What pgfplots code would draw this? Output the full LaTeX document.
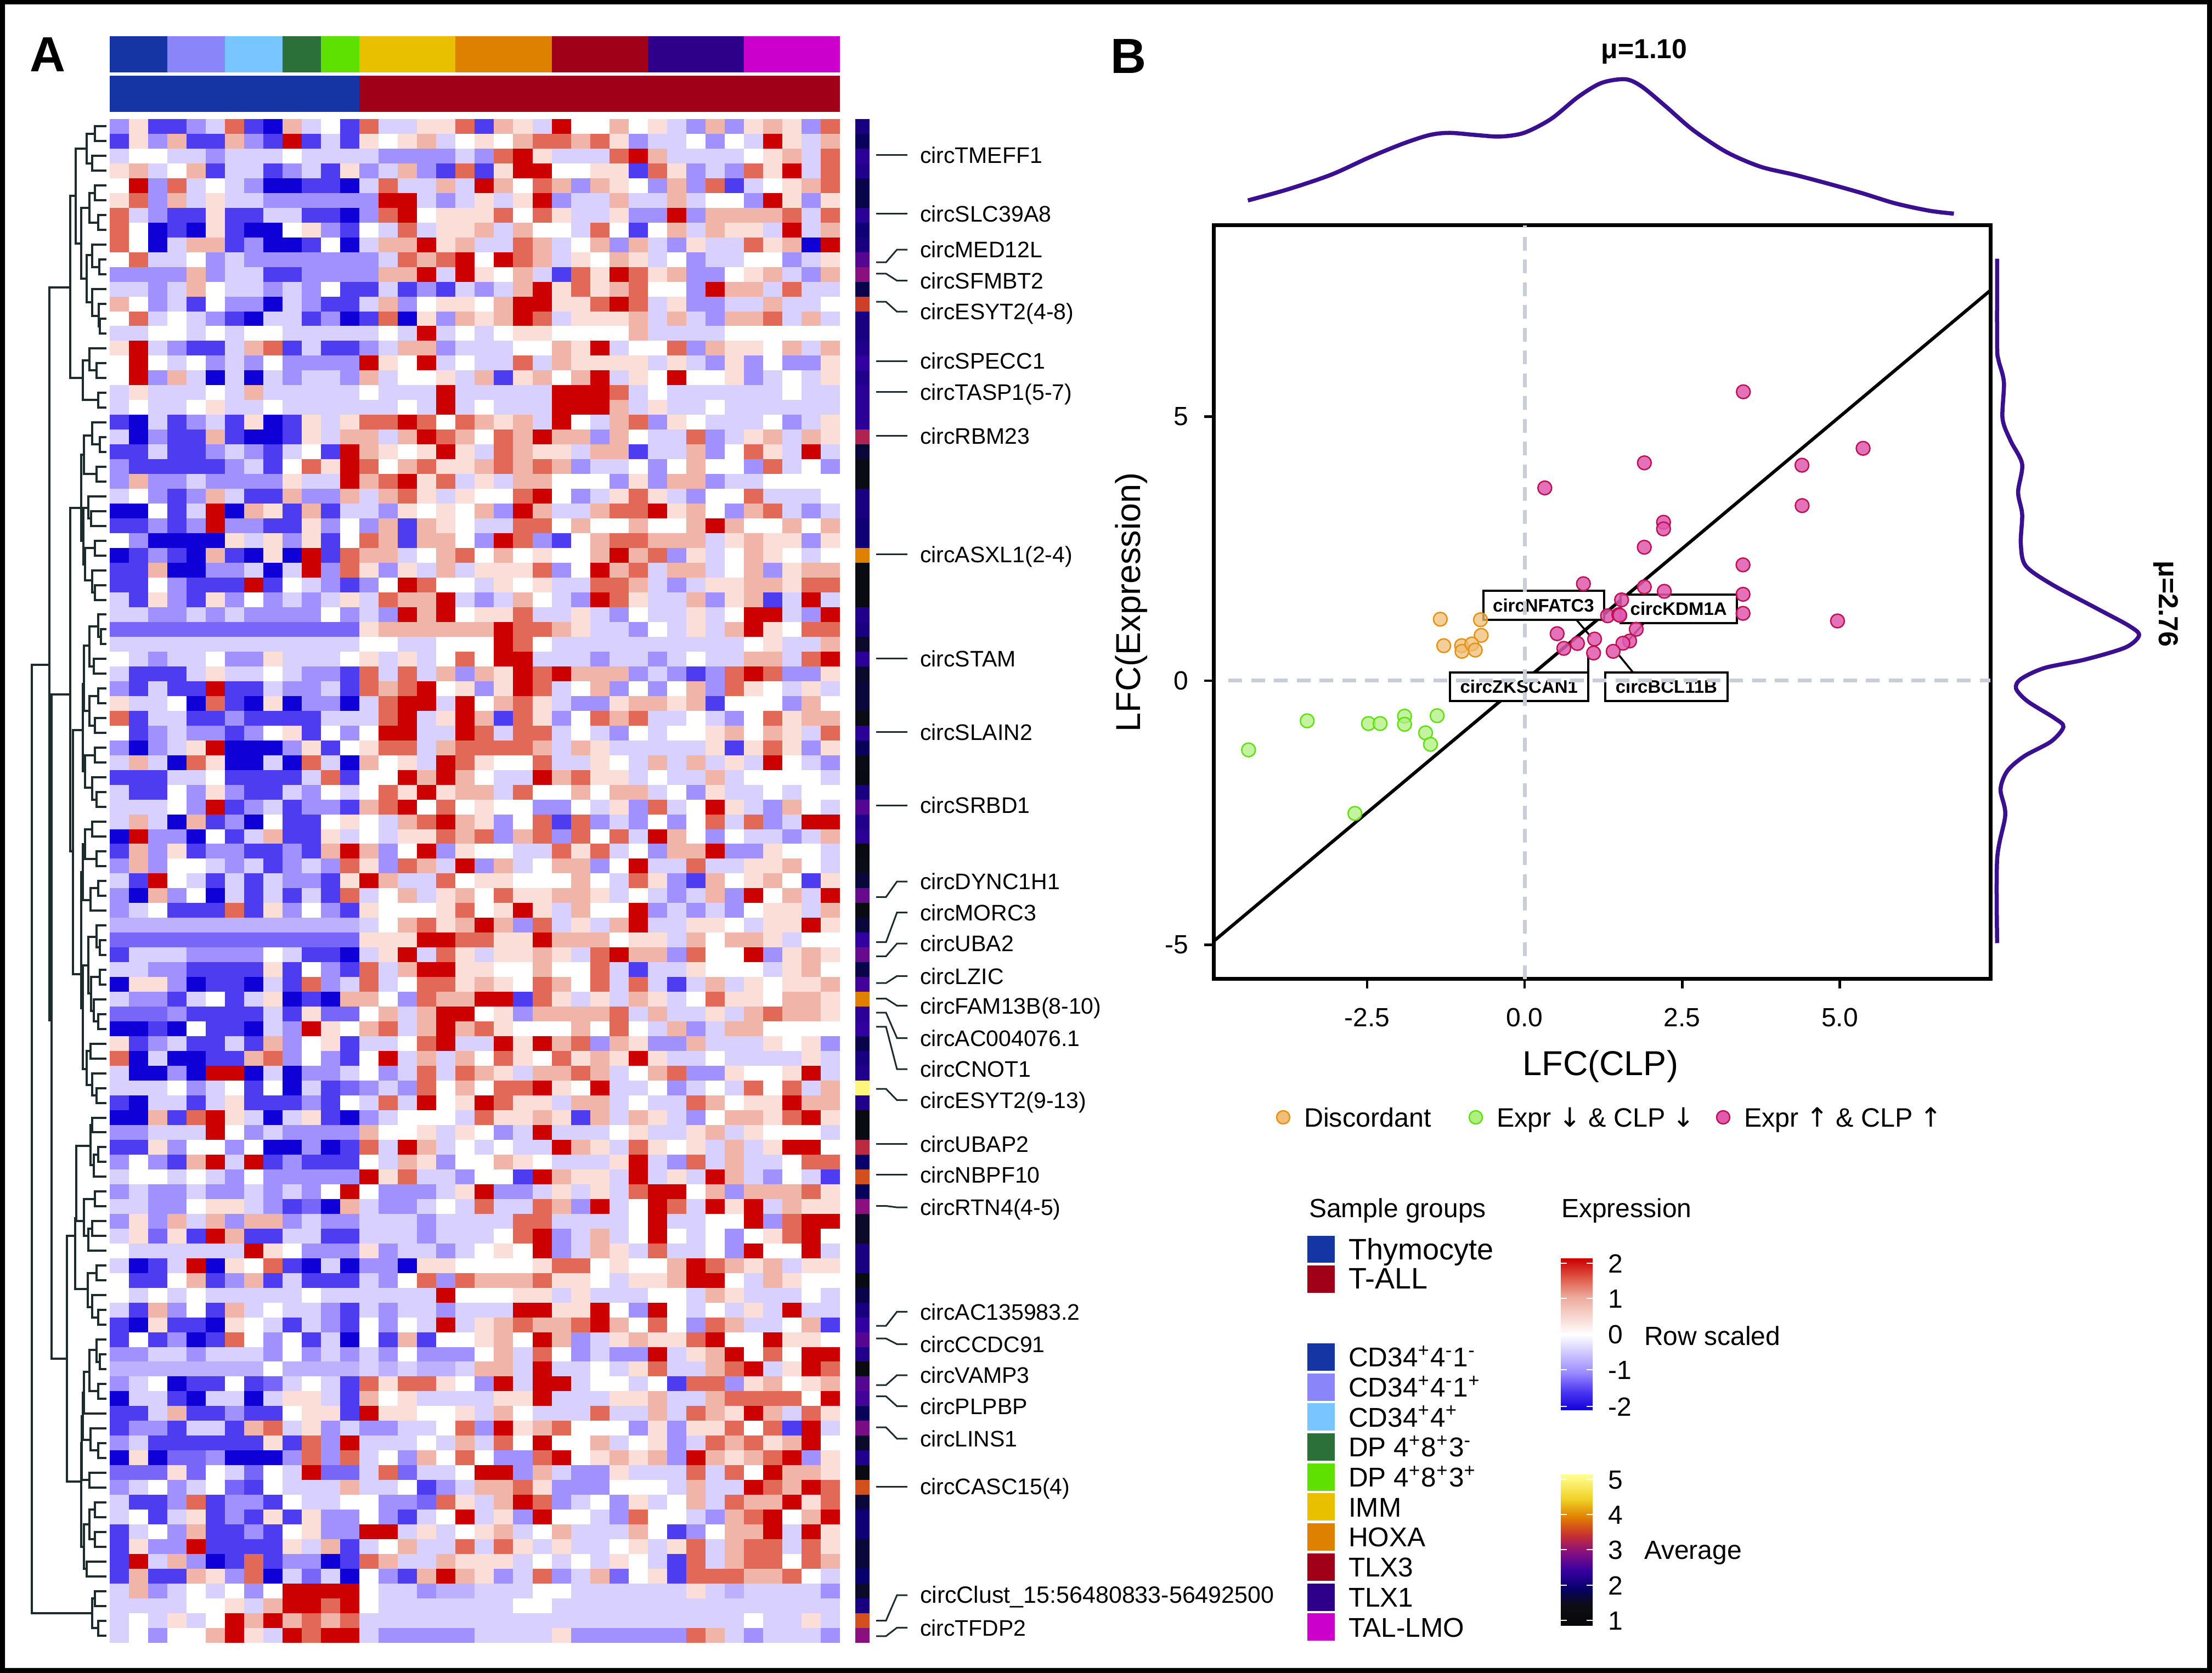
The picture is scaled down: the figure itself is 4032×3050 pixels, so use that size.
\documentclass[border=0pt]{standalone}
\usepackage{fontspec}
\setmainfont{Liberation Sans}
\newfontfamily\arrowf{DejaVu Sans}
\usepackage{pgfplots}
\usepackage{pgfplotstable}
\pgfplotsset{compat=1.18}

\definecolor{cA}{RGB}{21,53,165}
\definecolor{cB}{RGB}{138,133,248}
\definecolor{cC}{RGB}{120,197,255}
\definecolor{cD}{RGB}{42,112,56}
\definecolor{cE}{RGB}{94,224,0}
\definecolor{cF}{RGB}{232,192,0}
\definecolor{cG}{RGB}{222,128,0}
\definecolor{cH}{RGB}{160,0,24}
\definecolor{cI}{RGB}{46,0,138}
\definecolor{cJ}{RGB}{204,0,204}
\definecolor{densc}{RGB}{58,16,144}
\definecolor{dashgrey}{RGB}{200,206,216}
\definecolor{dtree}{RGB}{28,44,44}

\pgfplotsset{
  colormap={heat}{rgb255=(16,0,216) rgb255=(78,60,240) rgb255=(160,145,255) rgb255=(216,208,255)
    rgb255=(255,255,255) rgb255=(250,222,215) rgb255=(240,180,168) rgb255=(226,104,88) rgb255=(204,0,0)},
  colormap={avg}{rgb255=(8,8,8) rgb255=(12,12,25) rgb255=(8,0,108) rgb255=(50,0,160) rgb255=(138,16,128)
    rgb255=(200,48,48) rgb255=(224,128,0) rgb255=(240,210,40) rgb255=(255,255,144)},
  bare/.style={scale only axis,hide axis,clip=false,anchor=south west},
}

\pgfdeclareplotmark{hcell}{\pgfpathrectangle{\pgfpoint{-3.52pt}{-2.71pt}}{\pgfpoint{7.04pt}{5.42pt}}\pgfusepathqfill}
\pgfdeclareplotmark{scell}{\pgfpathrectangle{\pgfpoint{-2.6pt}{-2.71pt}}{\pgfpoint{5.2pt}{5.42pt}}\pgfusepathqfill}

\pgfdeclareverticalshading{hbar}{100bp}{rgb(0bp)=(0.063,0,0.847);
  rgb(25bp)=(0.063,0,0.847); rgb(31bp)=(0.29,0.21,0.94); rgb(37.5bp)=(0.61,0.55,1); rgb(50bp)=(1,1,1);
  rgb(62.5bp)=(0.93,0.66,0.61); rgb(68bp)=(0.88,0.38,0.31); rgb(75bp)=(0.8,0,0); rgb(100bp)=(0.8,0,0)}
\pgfdeclareverticalshading{abar}{100bp}{rgb(0bp)=(0.03,0.03,0.03);
  rgb(25bp)=(0.03,0.03,0.03); rgb(32bp)=(0.05,0.05,0.08); rgb(37.5bp)=(0.03,0,0.42); rgb(43bp)=(0.2,0,0.63);
  rgb(49.5bp)=(0.54,0.06,0.5); rgb(55bp)=(0.78,0.19,0.19); rgb(61bp)=(0.88,0.5,0); rgb(67bp)=(0.94,0.82,0.16);
  rgb(75bp)=(1,1,0.56); rgb(100bp)=(1,1,0.56)}

% row-scaled expression, one line per row, in half units (-4..4 is -2..2)
\pgfplotstableread[header=false]{
-2 1 -3 -3 -2 -1 3 -3 -4 2 -1 0 -3 3 -1 -1 1 1 3 -3 2 1 -1 4 0 0 2 0 1 -1 -2 2 -2 1 2 1 -2 3
-3 1 -2 2 -3 -3 2 -2 -3 4 -3 -1 -3 1 0 1 2 -1 0 1 0 2 3 3 2 3 1 -2 -1 -1 0 -2 0 -1 4 1 -1 2
-1 0 0 -1 -1 -2 -1 -1 -1 0 -1 -1 -1 -1 -2 -2 -2 -2 -1 -2 3 4 1 -1 -1 -1 3 4 2 -1 -1 -1 -1 0 1 2 -1 3
1 2 -1 0 2 -3 -1 -1 -3 -2 -1 -3 1 -2 -1 2 -2 -3 3 -3 1 4 4 0 0 1 1 -3 3 1 -2 -1 -2 3 1 4 -1 3
0 4 -2 3 -1 0 -1 -2 -4 -4 -3 -3 -4 -1 3 -1 -1 2 -1 4 2 0 3 2 -2 2 1 0 -2 2 -2 3 -3 -1 0 1 2 3
1 3 -2 2 -1 1 -1 -1 -2 -2 -2 -2 -2 -2 4 4 -1 -2 -1 1 -1 1 4 -2 -1 -1 2 -1 -1 2 -1 0 0 -2 4 1 -2 1
3 -1 -2 -3 -3 1 -3 -3 -1 -1 -3 -3 -4 -2 3 4 0 1 1 1 3 0 3 1 -1 -1 1 -2 -2 4 -2 2 2 2 2 3 -1 3
3 0 -4 -3 -4 1 -3 -4 -4 0 1 -2 -3 0 -1 3 -1 1 1 2 -1 2 0 0 -1 3 0 -3 0 2 -1 2 1 1 -1 4 -1 2
3 0 -4 -1 2 2 -3 -2 -4 -4 -3 0 -4 -1 2 2 4 1 2 -1 -1 3 2 -1 0 2 -2 2 -1 -2 1 -1 -1 3 1 2 -4 4
0 3 -1 -1 0 -2 -1 -2 -2 -2 -2 -2 -2 -2 -1 3 2 3 4 0 4 3 2 -1 1 0 2 1 -1 0 -2 -1 -1 0 0 -2 -1 1
-2 -2 -2 -2 2 -2 -1 -1 -3 -3 -2 -2 -2 -2 2 2 4 -1 4 1 0 2 -1 -3 3 1 4 3 1 2 -2 -2 0 1 2 -1 -2 2
-1 -1 -2 -1 2 0 -1 -1 -2 -1 -2 0 -3 -3 -1 -3 -2 -3 -1 -2 -1 2 4 1 3 1 2 3 0 0 -2 4 2 2 -1 3 -1 -1
2 0 -2 -1 -3 0 -2 -2 -4 -1 -2 -3 -3 -1 2 -2 0 1 1 0 2 4 4 1 1 3 4 3 -1 1 -2 -2 -1 -1 2 -1 -1 0
0 3 -1 0 -1 -2 -3 -4 -1 -1 -3 -2 -4 -3 3 -4 1 -2 2 1 2 4 3 -1 1 1 1 2 -1 2 -1 -2 2 2 3 -1 2 -1
-1 -1 0 0 -1 0 -1 0 0 -1 -1 -1 -1 -1 0 -1 4 -1 0 -1 0 1 1 0 0 0 0 2 -1 -1 -1 -1 0 0 0 0 0 0
1 4 -1 -2 -3 -3 -1 2 3 -3 -1 -3 -3 -2 -1 2 2 -2 -1 -1 -1 0 0 2 1 4 -1 0 0 3 -2 2 1 1 0 2 -1 2
0 4 0 -1 0 -2 -1 -2 0 -2 -2 -2 -2 4 1 0 4 -1 0 -1 -1 3 -1 2 1 1 1 1 -1 1 -1 -2 1 -2 0 -2 -2 1
0 4 -2 2 -1 -4 -1 -4 -1 -2 -1 -1 -2 2 -1 0 0 1 -1 2 -3 1 2 0 2 4 -1 1 0 4 0 0 1 -2 -1 0 -1 1
-1 1 -1 -1 -1 0 -1 2 -1 -1 -1 -1 -1 0 -1 -1 -1 4 -1 -1 -1 -1 -1 4 4 4 3 -1 0 -1 -1 -1 -1 -1 -1 0 -1 -1
-1 0 -1 -1 0 1 -1 -1 0 -1 -1 -1 -1 -1 -1 0 -1 4 -1 0 -1 -1 -1 4 4 4 2 -1 1 -1 -1 0 -1 -1 -1 -1 -1 -1
-3 -4 -1 -3 -2 -1 -3 1 -4 -3 1 -1 1 3 3 4 3 0 3 2 1 2 -1 4 0 -1 2 3 -2 1 0 -1 -1 -1 0 -2 -1 1
-1 -4 -2 -3 -3 2 -3 -4 -4 -3 1 -1 2 2 -1 2 4 3 2 0 3 2 4 2 2 -2 2 0 -1 -1 3 -2 -1 1 2 -1 2 1
-3 -3 -1 -3 -3 -2 -1 -2 -3 -1 0 -3 4 2 1 0 1 4 1 -1 3 2 1 1 -1 2 2 -3 -1 -1 2 -2 0 3 1 -1 4 -1
-2 -3 -3 -3 -3 -3 -2 -1 -3 0 3 1 4 3 0 2 3 1 1 2 3 2 3 2 -2 -1 -1 0 -2 0 2 0 0 -2 3 -1 0 -2
-2 2 -2 -2 -1 -2 -2 -2 -2 1 -1 -1 4 2 3 4 1 3 -1 1 -1 2 2 0 0 0 -2 1 -2 2 2 -2 -1 -1 0 0 0 0
-1 0 -2 -3 -2 2 -1 -3 -3 2 -2 -2 2 -1 2 3 1 -1 1 0 0 3 4 0 -2 -1 1 3 1 -1 -2 0 0 3 -1 -1 -1 0
-4 -4 0 -3 -1 4 -4 2 1 -3 2 -3 -1 -1 -2 1 0 1 0 2 -2 4 2 -1 -1 2 3 3 4 1 2 0 -2 2 3 -1 -2 -1
-3 -3 -2 -3 -2 4 -2 -2 -3 -3 1 -2 0 -2 2 -3 2 1 0 -1 -1 3 3 0 2 0 0 2 0 0 2 4 2 0 0 2 0 2
0 -2 -4 -4 -4 -4 1 -1 1 -2 1 -3 0 3 2 -3 2 2 0 -2 4 3 -2 -3 0 2 3 3 2 2 2 -1 1 2 1 1 -2 1
-4 -3 -2 -3 -4 2 -3 -4 1 -4 4 -3 3 2 2 -1 0 2 3 0 2 0 1 0 0 2 4 2 3 -2 1 -1 0 2 1 0 -1 0
-3 -3 2 -4 -4 -2 -2 -1 -4 -1 4 -2 3 1 -2 1 -1 2 -1 1 1 1 3 -2 0 4 2 3 -1 2 2 -1 0 2 -2 1 2 2
-3 -3 0 -2 -3 -3 -3 4 -3 0 -1 -2 -3 -2 0 4 3 0 0 -1 1 0 1 -1 -1 3 3 2 -1 -2 -1 1 1 2 2 1 3 3
-1 -3 1 -2 -3 1 -2 0 -2 -1 -2 -1 1 -1 3 2 2 4 -1 -2 -1 2 0 -1 -2 4 3 1 -1 -1 2 -2 1 2 -3 -1 4 -1
-1 -1 -2 -2 -1 -2 -1 -2 -2 -2 -2 0 -2 -1 -2 4 2 4 0 1 1 3 -1 -1 1 -1 -2 0 -1 -1 1 -1 0 4 4 -1 -2 4
-2.5 -2.5 -2.5 -2.5 -2.5 -2.5 -2.5 -2.5 -2.5 -2.5 -2.5 -2.5 -2.5 1 2 2 2 2 2 2 4 3 3 2 1 -1 -1 -2 0 -1 1 -1 2 4 1 0 3 3
-1 -1 -1 -1 -1 -1 -1 -1 -1 -1 -1 -1 -1 0 0 -1 -1 0 0 0 4 3 0 -1 -1 -1 -1 -1 -1 -1 -1 -1 -1 0 1 -1 -1 2
0 -1 -2 -1 -1 0 -2 -2 1 -1 -1 -1 0 1 -1 1 -1 0 3 0 4 4 -1 -1 -1 -2 -1 -1 -2 -1 0 -1 -1 2 2 -1 3 4
-1 -3 -3 -3 -1 1 -1 -1 0 -1 -2 -2 -3 3 -1 3 -1 2 -2 2 1 4 3 4 2 2 2 -2 -1 -2 -3 -2 3 4 3 -2 -2 1
-2 -3 -1 -3 -3 4 -3 -3 -1 -2 -2 -1 -3 3 2 3 4 0 1 -2 1 4 3 -1 0 2 -2 0 -2 0 2 -2 3 1 0 -1 1 -1
1 -1 -1 0 -4 3 -3 -4 1 -4 -2 -2 -4 -1 3 4 4 -1 4 0 2 3 1 -1 -2 -2 1 2 2 1 2 -3 0 0 0 -2 2 0
3 -3 -1 -1 -3 -3 -2 -3 -3 -3 -3 -1 -1 -1 3 4 -1 1 4 2 -3 3 1 -2 0 3 2 3 -1 -1 0 -1 -2 0 3 1 2 2
0 -3 -2 -1 -2 -2 -3 -2 0 1 -3 0 -2 0 4 4 -1 -1 4 3 -1 3 3 -1 0 -1 -2 0 -1 0 0 1 2 0 2 1 -1 3
-2 -4 -2 -1 1 4 -4 -4 -4 -2 1 -3 0 1 3 3 -1 2 3 3 3 3 2 -1 2 1 -1 -1 -1 -1 -1 1 -3 1 3 1 -2 1
-1 2 -1 -4 3 1 -4 -4 -1 -4 3 -1 -4 2 0 1 -1 4 3 1 0 0 3 -1 -1 1 0 -1 2 -1 2 -1 1 -1 4 0 -1 -2
-3 -3 -3 -1 -1 0 -3 -3 -3 -3 -1 3 -3 0 0 4 2 4 2 0 -1 -1 4 2 3 1 1 -1 0 -1 -1 2 -1 0 0 0 0 -1
-1 -3 -3 0 -2 1 -2 -3 -3 -1 -2 0 -1 0 3 1 4 1 2 2 -1 3 0 0 2 0 2 2 -1 0 -2 1 -1 -1 0 -1 0 0
-1 -1 -1 0 -2 4 -3 -2 -1 -3 -2 -2 -3 2 3 4 0 3 0 1 0 0 -2 -2 0 -1 1 -2 3 -1 0 4 1 -1 -2 2 0 -1
-1 2 -1 -4 2 -3 -2 -4 0 -3 -3 0 1 0 -1 2 3 4 2 1 -2 0 3 -3 3 -2 -1 -2 0 -2 0 3 -1 3 -2 -1 4 4
-4 4 -2 -2 -4 0 -3 -1 2 -3 -3 1 -1 0 -1 1 1 3 2 3 -2 2 3 -2 3 0 3 -1 4 2 0 -2 0 -1 -1 -2 -1 2
-3 2 -2 1 -3 -2 -2 -3 -3 -2 -3 2 4 2 -2 0 4 -2 1 0 0 -1 -1 3 1 3 -1 0 -2 2 2 4 -2 -2 1 0 0 -1
-2 2 -2 0 0 -1 -2 -1 -3 -2 -1 -2 3 1 -2 3 2 -1 4 -2 2 -1 0 2 2 -2 0 4 -1 -1 3 -1 -1 1 1 2 0 -1
-1 -3 4 0 -1 -3 -1 -3 -1 -2 -2 -3 1 4 2 -1 -1 3 0 1 1 0 0 0 2 0 -1 3 1 -2 -3 2 0 1 2 0 -3 1
-2 -4 2 -2 0 -4 -1 -3 -1 -3 -1 -3 3 -1 0 2 -1 1 2 0 3 1 1 2 2 1 -1 0 -1 -2 -1 2 -2 4 0 2 -1 4
-2 -1 0 -3 -3 -3 3 -3 1 -2 0 -2 -3 1 0 0 0 1 3 0 1 4 1 -1 2 0 0 4 -2 -1 -2 -1 -2 0 1 1 -1 2
-1.5 -1.5 -1.5 -1.5 -1.5 -1.5 -1.5 -1.5 -1.5 -1.5 -1.5 -1.5 -1.5 -1 0 2 3 1 2 4 2 -2 3 -1 1 -1 2 4 -1 -1 1 1 0 -1 1 1 4 1
-2.5 -2.5 -2.5 -2.5 -2.5 -2.5 -2.5 -2.5 -2.5 -2.5 -2.5 -2.5 -2.5 1 1 1 4 4 3 3 1 1 4 2 2 2 0 1 1 -1 2 0 2 2 1 -1 0 0
-3 -1 -1 -1 -2 -2 -2 -2 0 -1 -3 -3 -4 -1 1 4 -1 3 1 -1 1 1 2 1 -1 3 4 2 2 -2 3 0 0 4 -2 1 2 1
-1 -1 -2 -2 -3 -3 -3 -3 1 -3 0 -2 -3 3 -1 2 4 4 1 1 0 0 2 0 0 3 -1 -3 -1 -1 1 0 0 0 -1 1 2 0
-4 1 1 -2 -4 -3 -3 -4 -1 -3 3 -2 -1 3 -1 0 3 3 1 2 1 0 3 2 0 3 -1 3 -1 -3 -1 2 -1 1 0 1 1 2
-1 -2 -2 -3 -1 0 -3 -1 1 -4 -3 -4 2 2 0 -2 3 2 2 4 4 -3 3 1 -1 1 -1 2 1 -1 0 3 1 1 0 2 2 1
-2.5 -2.5 -2.5 -2 -3 -3 -3 -3 -1 -3 1 -2.5 -2.5 0 2 -1 2 4 4 0 1 -2 2 2 2 2 3 -1 2 -1 -1 1 -1 2 3 2 2 1
-4 -4 -3 -4 0 -3 -3 -4 -1 -2 4 1 0 2 3 -1 2 4 2 3 1 0 0 0 2 0 3 0 -1 2 -2 -1 2 2 0 0 0 0
1 -3 -2 -1 -3 -3 -1 -3 2 -2 0 1 -3 -1 -1 0 3 4 -1 -1 4 1 4 2 3 -2 2 1 -2 -2 2 -1 -1 -1 1 0 1 -2
3 -4 -1 -4 -4 -3 -3 2 3 -2 0 -2 -3 0 4 -1 2 -1 2 0 3 1 0 3 1 2 1 4 1 -1 -1 0 -1 -1 -1 -1 1 -1
-1 -4 -4 -2 -4 4 4 -4 -1 -4 -2 -2 -1 0 -2 -1 3 -1 3 2 1 -1 2 2 3 2 -1 0 2 3 -2 -2 1 0 0 1 4 -1
-1 -1 -1 0 -2 -1 0 -3 0 -4 -1 -3 -2.5 -2 -1 -2 3 0 2 0 3 3 4 1 0 4 -1 -1 0 -2 -1 0 -1 3 0 3 -1 2
-3 -4 -1 -1 -3 -1 1 -3 -3 -3 -2 -3 0 -1 3 -1 4 0 1 4 3 1 1 -1 2 2 -1 0 -1 -1 3 2 0 1 1 4 2 2
-4 -4 2 -3 3 4 1 -1 -4 -1 1 -3 -4 -2 -1 0 0 0 -1 3 1 1 2 1 -3 2 -1 2 1 -1 -2 0 2 2 1 3 4 1
-2 -2 -1 -1 -1 4 0 -2 -1 -2 -2 -2 -2 2 0 0 1 -1 1 0 -2 -1 4 -1 -1 -1 0 1 -1 -1 1 2 -1 1 0 0 0 -1
-3 -3 1 -2 0 0 -2 0 -4 -4 -2 -4 -3 3 -1 4 2 -1 0 -1 0 -1 -1 4 2 1 -1 3 1 0 1 -1 2 -1 1 4 4 0
-2 0 -2 -3 2 4 -1 4 -3 -2 -3 -3 -3 0 -1 2 1 -2 0 0 2 1 0 -1 -1 -1 1 4 -1 -2 3 -1 2 -1 -1 0 3 3
-1 0 0 -1 0 -1 -2 0 -2 -2 -2 -2 -2 4 1 3 -1 -1 -2 0 0 -3 4 2 1 1 -1 4 -1 1 -1 4 2 -1 -2 0 -1 -3
-2 -1 -2 -2 -1 -2 -2 -1 -2 -1 -2 0 4 0 -2 -2 -2 -1 1 4 -2 -2 -1 1 -1 1 -1 3 4 4 0 2 -2 2 2 2 3 1
-1 -1 -2 -2 0 1 1 -1 -2 -3 -2.5 -4 2 -1 -2 -2 -1 0 -1 3 -1 -1 3 2 -2 4 -1 0 4 3 -1 4 1 4 -1 2 1 1
-2 1 -2 2 -1 2 -2 2 2 -2 -1 -2 -2 -1 -1 -1 -2 -1 -1 -1 -1 3 3 -1 -1 -1 -1 0 4 -1 -1 0 0 4 -2 3 4 4
-1 1 -2.5 1 -3 4 2 -3 -3 -1 -1 -3 -3 -1 -1 -1 -2 -1 -1 -1 0 3 4 -2 -1 2 -1 0 4 0 -1 0 -2 0 1 3 4 0
0 -1 -1 -1 -1 -1 -1 4 1 0 -2 -2 -2 1 -2 -1 -1 -2 -1 0 1 0 4 -2 -1 2 1 -1 3 -1 -1 0 -2 4 0 0 4 -1
-1 -4 -3 -1 4 -4 1 0 3 -3 -4 -1 -4 -2 -2 -4 1 1 0 0 0 0 1 3 3 0 1 0 0 2 4 3 2 1 2 -1 1 1
0 -3 -3 0 2 -3 -2 2 -3 -1 -3 -3 -3 -1 -2 0 3 -2 3 2 2 2 3 1 1 0 -1 1 1 2 4 4 0 -1 2 1 0 0
0 -1 0 -1 0 -1 -1 -1 -1 -1 0 -1 -1 -1 -1 -1 -1 4 0 0 0 1 1 -1 1 -1 -1 -1 0 0 -1 2 1 -1 -1 -1 0 -1
-1 -3 2 -2 0 -3 2 -1 0 -1 -1 -2 -3 -1 -2 -1 -1 -2 -1 -1 -1 4 4 1 1 4 0 -2 4 0 -1 0 -1 1 -1 4 -1 -1
-3 -4 1 -3 -3 -4 1 0 -1 -3 -1 -2 -3 0 -2 0 -1 4 -1 1 2 3 2 2 3 4 2 0 3 0 -2 3 2 -1 -1 0 2 -3
-3 0 -3 -2 -4 -3 3 0 -2 0 -3 -1 -4 0 -3 2 -3 0 0 1 2 0 4 2 -2 -1 1 2 1 1 3 4 0 0 4 1 1 0
-2 -2 -1 -1 -2 -1 -1 -1 -2 0 -2 -1 -2 -1 -2 0 -2 -2 -2 0 2 -1 3 0 -2 -1 -2 -2 4 -1 1 2 4 0 3 0 4 4
-1.5 -1.5 -1.5 -1.5 -1.5 -1.5 -1.5 -1.5 0 -1.5 -1.5 -1.5 -1.5 -1 -1.5 -1 -1.5 -1.5 -1 2 2 -1 4 -1 -1 0 -1 1 3 -1 -1 2 3 4 -1 1 4 3
-2 -1 0 -4 -3 -3 0 -3 -2.5 -1 0 -1 -3 3 1 3 3 1 0 -2 4 -1 4 4 -1 0 0 -1 0 -3 3 3 -2 1 2 0 1 2
-4 -1 -1 -3 -4 -1 -1 -4 -1 1 1 -1 -3 2 0 1 -1 -1 -1 -1 1 1 4 -1 -1 -1 1 1 2 -1 -1 2 3 3 3 3 0 4
-3 -3 -1 2 -3 -3 -2 -3 -3 0 1 1 -3 4 1 1 0 0 1 -1 2 0 -1 -1 -1 3 -1 -1 2 -1 3 2 1 4 2 -1 3 1
-3 -2 -2 -3 -1 -1 -3 2 3 -1 1 -2 -1 -2 -2 -1 -1 0 3 -2 4 1 2 3 0 0 0 -2 1 -2 1 1 3 0 3 -3 4 -1
-2 -1 -3 -3 -3 -3 -3 -3 1 -3 3 -2 4 -1 -1 -1 0 -1 2 -1 3 0 4 0 0 2 -1 0 1 -2 -1 3 2 3 1 2 4 0
-4 1 -4 -2.5 -2.5 -2 -4 -4 -4 -2 3 -2 3 -1 0 -2 2 0 3 0 -2 -2 3 4 0 1 2 1 2 -2 4 2 1 2 3 4 -2 1
-2.5 -2.5 -2.5 1 -2.5 0 -1 -2.5 0 -1 4 -2.5 -2.5 -1 3 -2.5 -1 -1 0 4 4 -2 2 -1 -2 -2 1 -1 -1 -1 3 -1 3 0 4 2 2 1
-2 -1 0 -2 -1 0 -2.5 -3 0 -1 -1 -1 2 -1 -1 0 -3 -2 -1 2 2 3 1 -2 -2 -2 0 0 0 -1 2 -1 -1 4 3 2 4 3
-1 -3 -3 -2 3 -3 -2 -2 -3 0 -1 -1 0 0 -2 -2 -2.5 3 1 -1 2 4 3 -2 -1 0 -2 1 -1 0 2 -1 3 2 2 4 1 3
-1 0 -3 -1 1 -3 -2 -3 1 -3 1 -2 -2 0 -2 -3 -1 0 4 -1 1 -2 4 0 0 -1 -2 3 0 0 -1 -2 2 3 4 0 2 4
-3 -1 0 -2 2 -3 -3 -2 -3 0 1 -2 -2 4 4 -1 1 -1 0 1 2 -1 0 2 -1 -1 -1 2 0 -3 -2 0 2 2 4 -1 4 1
-3 1 -2 -2 4 -3 -3 -3 -3 1 -1 2 -3 -1 0 2 -1 -1 3 -1 3 1 -1 1 -1 -1 0 1 -1 1 3 -1 2 3 3 -1 3 1
-3 4 -1 2 -2 -4 -3 3 -3 -2 -2 -4 -3 3 2 -1 -1 2 1 1 1 -1 0 -1 0 -1 1 0 -1 -3 3 -1 2 3 3 0 3 2
-3 2 -3 -3 2 1 -2 3 -4 -1 -2.5 -1 -4 0 -2 -3 2 4 2 1 -2 -1 3 -2 -1 2 -2.5 0 1 -3 3 3 3 2 2 3 0 -1
-1 2 -2 -1 0 -1 0 -2 0 4 4 4 4 0 -1 -1 -2 -1.5 -1.5 -1 -1 -1 0 0 -1 -1 -1 -1 -1 -1 1 -1 -1.5 -1 -1 -1 -1 -2
-1 -1 -1 -1 0 0 1 -1 2 4 4 3 4 0 -1 -1 -1 -1 -1 -1 -1 0 0 -1 -1 -1 -1 -1 -1 -1 -1 -1 -1 -1 -1 -1 -1 -1
-1 0 -1 1 -1 0 4 2 4 2 3 2 3 -1 -1 -1 -1 -1 -1 -1 -1 -1 -1 -1 -1 -1 -1 -1 -1 -1 -1 -1 -1 0 -1 -1 1 -1
-1 0 -2 0 0 2 4 1 -1 4 3 4 4 -1 -2 -2 -2 -2 -2 -1 -1 -1 -1 1 -2 -2 -2 -2 -2 -2 3 2 -1 -2 -1 -1 -1 -2
}\heat

% average expression per row: row index, value
\pgfplotstableread[header=false]{
0 2.2
1 1.9
2 2.4
3 2.3
4 1.8
5 1.8
6 2.4
7 2.1
8 2.2
9 2.7
10 3
11 1.8
12 3.6
13 2.2
14 2.2
15 2.3
16 2.5
17 2.3
18 2.4
19 2.4
20 2.4
21 3.3
22 1.7
23 1.4
24 1.4
25 2.2
26 2.2
27 2.1
28 2.1
29 4
30 1.3
31 1.3
32 1.3
33 2.3
34 2.2
35 1.6
36 2.4
37 1.6
38 1.7
39 1.7
40 1.4
41 2.4
42 1.9
43 1.4
44 1.3
45 2.2
46 2.7
47 2.3
48 2.4
49 1.3
50 1.5
51 1.7
52 2.8
53 1.3
54 1.7
55 2.5
56 2.8
57 1.8
58 2.6
59 4
60 2.4
61 2.5
62 1.8
63 2.2
64 2.3
65 4.9
66 2.3
67 1.3
68 1.3
69 3.4
70 2
71 3.7
72 1.9
73 3
74 1.6
75 1.6
76 2.2
77 2.2
78 1.3
79 1.8
80 2.2
81 2.5
82 2.7
83 2.3
84 1.3
85 2.7
86 2.6
87 1.9
88 2.9
89 1.6
90 2.3
91 1.3
92 3.7
93 1.7
94 2.1
95 2.1
96 1.7
97 1.7
98 2
99 1.6
100 2.2
101 3.7
102 3
}\avgexpr

\newcommand\br[5]{\addplot[line width=.8pt,color=dtree] coordinates {(#2,#3)(#1,#3)(#1,#5)(#4,#5)};}
\newcommand\ann[5]{\addplot[fill=#5,draw=none] coordinates {(#1,#3)(#1,#4)(#2,#4)(#2,#3)} --cycle;}
\newcommand\T[4][8.2]{\node[anchor=west,inner sep=0pt,text height={#1*0.72pt},text depth=0pt,font=\fontsize{#1}{#1}\selectfont] at (#2,3050-#3) {#4};}
\newcommand\lab[3]{%
  \draw[line width=.6pt,dtree] (1597,3050-2.5714*#2) -- (1615,3050-2.5714*#2) -- (1635,3050-2.5714*#1) -- (1654,3050-2.5714*#1);
  \T{1676}{2.5714*#1}{#3}}

\begin{document}
\begin{tikzpicture}[x=0.2pt,y=0.2pt]
\path[use as bounding box] (0,0) rectangle (4032,3050);
\fill[white] (0,0) rectangle (4032,3050);
\fill[black,even odd rule] (0,0) rectangle (4032,3050) (9,9) rectangle (4023,3042);

% heatmap
\begin{axis}[bare,at={(40pt,11pt)},width=266.2pt,height=555.6pt,
  xmin=-0.5,xmax=37.5,ymin=-0.5,ymax=102.5,y dir=reverse,
  colormap name=heat,point meta min=-4,point meta max=4]
\pgfplotsinvokeforeach{0,...,37}{
  \addplot[scatter,only marks,mark=hcell,point meta=explicit,
    scatter/use mapped color={fill=mapped color,draw=none}]
    table[x expr=#1,y expr=\coordindex,meta index=#1] {\heat};
}
\end{axis}

% row average strip
\begin{axis}[bare,at={(311.8pt,11pt)},width=5.2pt,height=555.6pt,
  xmin=-0.5,xmax=0.5,ymin=-0.5,ymax=102.5,y dir=reverse,
  colormap name=avg,point meta min=1,point meta max=5]
\addplot[scatter,only marks,mark=scell,point meta=explicit,
  scatter/use mapped color={fill=mapped color,draw=none}]
  table[x expr=0,y index=0,meta index=1] {\avgexpr};
\end{axis}

% sample annotation strips
\begin{axis}[bare,at={(40pt,569.2pt)},width=266.2pt,height=27.6pt,xmin=0,xmax=38,ymin=0,ymax=138]
\ann{0}{3}{72}{138}{cA}
\ann{3}{6}{72}{138}{cB}
\ann{6}{9}{72}{138}{cC}
\ann{9}{11}{72}{138}{cD}
\ann{11}{13}{72}{138}{cE}
\ann{13}{18}{72}{138}{cF}
\ann{18}{23}{72}{138}{cG}
\ann{23}{28}{72}{138}{cH}
\ann{28}{33}{72}{138}{cI}
\ann{33}{38}{72}{138}{cJ}
\ann{0}{13}{0}{66}{cA}
\ann{13}{38}{0}{66}{cH}
\end{axis}

% dendrogram
\begin{axis}[bare,at={(0pt,11pt)},width=40pt,height=555.6pt,xmin=0,xmax=196,ymin=0.5,ymax=103.5,y dir=reverse]
\br{170}{190}{1}{190}{2}
\br{165}{190}{3}{190}{4}
\br{155}{170}{1.5}{165}{3.5}
\br{170}{190}{5}{190}{6}
\br{175}{190}{7}{190}{8}
\br{160}{170}{5.5}{175}{7.5}
\br{177}{190}{10}{190}{11}
\br{165}{190}{9}{177}{10.5}
\br{178}{190}{14}{190}{15}
\br{176}{190}{13}{178}{14.5}
\br{165}{190}{12}{176}{13.8}
\br{155}{165}{9.7}{165}{12.9}
\br{145}{160}{6.5}{155}{11.3}
\br{135}{155}{2.5}{145}{8.9}
\br{172}{190}{17}{190}{18}
\br{160}{190}{16}{172}{17.5}
\br{175}{190}{19}{190}{20}
\br{148}{160}{16.8}{175}{19.5}
\br{125}{135}{5.7}{148}{18}
\br{178}{190}{22}{190}{23}
\br{165}{190}{21}{178}{22.5}
\br{172}{190}{24}{190}{25}
\br{150}{165}{21.9}{172}{24.5}
\br{163}{190}{27}{190}{28}
\br{158}{190}{26}{163}{27.5}
\br{170}{190}{29}{190}{30}
\br{170}{190}{32}{190}{33}
\br{165}{190}{31}{170}{32.5}
\br{152}{170}{29.5}{165}{31.7}
\br{149}{158}{26.8}{152}{30.6}
\br{145}{150}{23.2}{149}{29}
\br{180}{190}{35}{190}{36}
\br{175}{190}{34}{180}{35.5}
\br{168}{190}{37}{190}{38}
\br{160}{175}{34.8}{168}{37.5}
\br{175}{190}{39}{190}{40}
\br{170}{190}{41}{190}{42}
\br{160}{175}{39.5}{170}{41.5}
\br{150}{160}{36.1}{160}{40.5}
\br{170}{190}{43}{190}{44}
\br{172}{190}{46}{190}{47}
\br{165}{190}{45}{172}{46.5}
\br{152}{170}{43.5}{165}{45.7}
\br{148}{150}{38.7}{152}{44.6}
\br{165}{190}{48}{190}{49}
\br{172}{190}{50}{190}{51}
\br{152}{165}{48.5}{172}{50.5}
\br{175}{190}{52}{190}{53}
\br{162}{175}{52.5}{190}{54}
\br{148}{152}{49.5}{162}{53.3}
\br{178}{190}{56}{190}{57}
\br{172}{190}{55}{178}{56.5}
\br{178}{190}{58}{190}{59}
\br{175}{190}{61}{190}{62}
\br{168}{190}{60}{175}{61.5}
\br{163}{178}{58.5}{168}{60.8}
\br{158}{172}{55.8}{163}{59.6}
\br{162}{190}{63}{190}{64}
\br{172}{190}{66}{190}{67}
\br{165}{190}{65}{172}{66.5}
\br{155}{162}{63.5}{165}{65.8}
\br{148}{158}{57.7}{155}{64.7}
\br{145}{148}{51.4}{148}{60.6}
\br{130}{148}{41.8}{145}{58.3}
\br{125}{145}{26.8}{130}{50}
\br{165}{190}{68}{190}{69}
\br{175}{190}{70}{190}{71}
\br{168}{175}{70.5}{190}{72}
\br{162}{165}{68.5}{168}{71.2}
\br{170}{190}{73}{190}{74}
\br{165}{190}{75}{190}{76}
\br{158}{165}{75.5}{190}{77}
\br{150}{170}{73.5}{158}{76}
\br{136}{162}{69.9}{150}{75}
\br{172}{190}{78}{190}{79}
\br{175}{190}{81}{190}{82}
\br{165}{190}{80}{175}{81.5}
\br{157}{172}{78.5}{165}{80.8}
\br{134}{136}{74.8}{157}{79.6}
\br{178}{190}{84}{190}{85}
\br{172}{190}{83}{178}{84.5}
\br{175}{190}{86}{190}{87}
\br{160}{172}{83.7}{175}{86.5}
\br{150}{160}{85.2}{190}{88}
\br{175}{190}{90}{190}{91}
\br{162}{190}{89}{175}{90.5}
\br{148}{150}{86.6}{162}{89.8}
\br{160}{190}{92}{190}{93}
\br{146}{148}{88.2}{160}{92.5}
\br{170}{190}{94}{190}{95}
\br{170}{190}{96}{190}{97}
\br{160}{170}{94.5}{170}{96.5}
\br{155}{190}{98}{190}{99}
\br{150}{160}{95.5}{155}{98.5}
\br{145}{146}{90}{150}{97}
\br{120}{134}{76}{145}{92.6}
\br{92}{125}{39.4}{120}{84.3}
\br{88}{125}{11.9}{92}{61.4}
\br{170}{190}{100}{190}{101}
\br{175}{190}{102}{190}{103}
\br{165}{170}{100.5}{175}{102.5}
\br{57}{88}{37.4}{165}{101.5}
\end{axis}

% scatter
\begin{axis}[scale only axis,anchor=south west,at={(442.4pt,253pt)},width=283.2pt,height=274.8pt,
  xmin=-4.935,xmax=7.39,ymin=-5.65,ymax=8.62,clip=false,
  axis line style={line width=1.4pt},
  tick align=outside,major tick length=3.4pt,tick style={line width=.9pt,black},
  xtick pos=bottom,ytick pos=left,
  xtick={-2.5,0,2.5,5},xticklabels={-2.5,0.0,2.5,5.0},
  ytick={-5,0,5},yticklabels={-5,0,5},
  ticklabel style={font=\fontsize{9.6}{10}\selectfont},
  xticklabel style={yshift=-3.6pt},
  yticklabel style={xshift=-2.2pt},
  xlabel={LFC(CLP)},ylabel={LFC(Expression)},
  label style={font=\fontsize{12.6}{13}\selectfont},
  xlabel style={at={(axis description cs:0.498,-0.1157)},anchor=center},
  ylabel style={at={(axis description cs:-0.106,0.5)},anchor=center}]
\addplot[only marks,mark=*,mark size=2.5pt,mark options={draw={rgb,255:red,232;green,144;blue,15},fill={rgb,255:red,240;green,190;blue,120},line width=.5pt,fill opacity=.75}]
 coordinates {(-1.338,1.164)(-0.70,1.154)(-0.689,0.858)(-1.283,0.663)(-1.0,0.663)(-0.994,0.556)(-0.838,0.695)(-0.783,0.58)};
\addplot[only marks,mark=*,mark size=2.5pt,mark options={draw={rgb,255:red,96;green,224;blue,16},fill={rgb,255:red,176;green,240;blue,128},line width=.5pt,fill opacity=.75}]
 coordinates {(-2.477,-0.811)(-2.293,-0.811)(-1.905,-0.672)(-1.905,-0.825)(-1.388,-0.663)(-1.571,-0.987)(-1.494,-1.205)(-2.693,-2.513)(-3.45,-0.76)(-4.38,-1.31)};
\addplot[only marks,mark=*,mark size=2.5pt,mark options={draw={rgb,255:red,192;green,16;blue,80},fill={rgb,255:red,224;green,90;blue,176},line width=.5pt,fill opacity=.85}]
 coordinates {(4.403,3.315)(2.204,3.0)(2.204,2.874)(1.899,2.527)(3.465,2.193)(0.933,1.836)(1.899,1.776)(2.216,1.692)(3.465,1.636)(3.465,1.275)(1.538,1.53)(1.316,1.229)(1.494,1.252)(1.51,1.238)(4.964,1.131)(1.771,0.974)(0.516,0.89)(1.11,0.788)(0.838,0.705)(0.622,0.612)(1.094,0.524)(1.666,0.751)(1.56,0.709)(1.405,0.556)(3.47,5.47)(5.37,4.40)(4.40,4.08)(1.90,4.125)(0.32,3.65)};
\addplot[black,line width=1.2pt] coordinates {(-4.935,-4.935)(7.39,7.39)};
\draw[line width=.7pt] (axis cs:0.827,1.145) -- (axis cs:1.05,0.834);
\draw[line width=.7pt] (axis cs:1.50,0.478) -- (axis cs:1.716,0.162);
\draw[line width=.7pt] (axis cs:1.011,0.487) -- (axis cs:1.011,0.162);
\draw[line width=.7pt] (axis cs:1.882,1.076) -- (axis cs:1.66,0.779);
\node[draw,fill=white,line width=.8pt,inner sep=0pt,minimum width=44pt,minimum height=10.6pt,font=\bfseries\fontsize{6.6}{7}\selectfont] at (axis cs:0.30,1.428) {circNFATC3};
\node[draw,fill=white,line width=.8pt,inner sep=0pt,minimum width=42.4pt,minimum height=10.4pt,font=\bfseries\fontsize{6.6}{7}\selectfont] at (axis cs:2.443,1.363) {circKDM1A};
\node[draw,fill=white,line width=.8pt,inner sep=0pt,minimum width=50.4pt,minimum height=10.4pt,font=\bfseries\fontsize{6.6}{7}\selectfont] at (axis cs:-0.089,-0.116) {circZKSCAN1};
\node[draw,fill=white,line width=.8pt,inner sep=0pt,minimum width=44.6pt,minimum height=10.4pt,font=\bfseries\fontsize{6.6}{7}\selectfont] at (axis cs:2.249,-0.116) {circBCL11B};
\addplot[color=dashgrey,line width=1.4pt,dash pattern=on 5pt off 3.3pt] coordinates {(0,-5.65)(0,8.62)};
\addplot[color=dashgrey,line width=1.4pt,dash pattern=on 5pt off 3.3pt] coordinates {(-4.7,0)(7.39,0)};
\end{axis}

% marginal densities
\begin{axis}[bare,at={(442.4pt,527.8pt)},width=283.2pt,height=82.2pt,xmin=-4.935,xmax=7.39,ymin=-7,ymax=300]
\addplot[color=densc,line width=1.5pt,smooth] coordinates {(-4.39,27)(-3.76,42)(-3.07,62)(-2.48,85)(-1.94,104)(-1.51,116)(-1.19,119)(-0.76,116)(-0.39,114)(-0.01,119)(0.42,138)(0.85,168)(1.22,187)(1.60,192)(1.86,182)(2.24,155)(2.67,123)(3.20,93)(3.74,73)(4.28,62)(4.81,50)(5.35,37)(5.88,23)(6.42,13)(6.81,9)};
\end{axis}
\begin{axis}[bare,at={(725.6pt,253pt)},width=80.8pt,height=274.8pt,xmin=0,xmax=328,ymin=-5.65,ymax=8.62]
\addplot[color=densc,line width=1.5pt,smooth] coordinates {(10,7.99)(10,6.35)(12,6.07)(20,5.65)(18,4.96)(30,4.54)(47,4.10)(41,3.57)(47,3.15)(45,2.60)(52,2.18)(90,1.83)(160,1.35)(205,1.04)(220,0.86)(200,0.63)(140,0.40)(80,0.24)(45,0.03)(38,-0.15)(55,-0.39)(95,-0.71)(108,-0.875)(90,-1.15)(50,-1.43)(25,-1.71)(15,-2.06)(22,-2.54)(10,-3.375)(10,-4.97)};
\end{axis}

\node[font=\bfseries\fontsize{10}{11}\selectfont] at (2997,3050-94) {μ=1.10};
\node[font=\bfseries\fontsize{10}{11}\selectfont,rotate=-90] at (3948,3050-1101) {μ=2.76};
\node[font=\bfseries\fontsize{18}{19}\selectfont] at (87,3050-100) {A};
\node[font=\bfseries\fontsize{18}{19}\selectfont] at (2057,3050-103) {B};

% scatter legend
\filldraw[fill={rgb,255:red,240;green,190;blue,120},draw={rgb,255:red,232;green,144;blue,15},line width=.5pt] (2339,3050-2037) circle (12);
\T[9.7]{2376}{2037}{Discordant}
\filldraw[fill={rgb,255:red,176;green,240;blue,128},draw={rgb,255:red,96;green,224;blue,16},line width=.5pt] (2690,3050-2037) circle (12);
\T[9.7]{2727}{2037}{Expr {\arrowf ↓} \& CLP {\arrowf ↓}}
\filldraw[fill={rgb,255:red,224;green,90;blue,176},draw={rgb,255:red,192;green,16;blue,80},line width=.5pt] (3141,3050-2037) circle (12);
\T[9.7]{3178}{2037}{Expr {\arrowf ↑} \& CLP {\arrowf ↑}}

% gene labels
\lab{110}{110}{circTMEFF1}
\lab{151.5}{151.5}{circSLC39A8}
\lab{177}{186}{circMED12L}
\lab{199}{194}{circSFMBT2}
\lab{221}{214}{circESYT2(4-8)}
\lab{256}{256}{circSPECC1}
\lab{278}{278}{circTASP1(5-7)}
\lab{309}{309}{circRBM23}
\lab{393}{393}{circASXL1(2-4)}
\lab{467}{467}{circSTAM}
\lab{519}{519}{circSLAIN2}
\lab{571}{571}{circSRBD1}
\lab{625}{636}{circDYNC1H1}
\lab{647}{668}{circMORC3}
\lab{669}{678}{circUBA2}
\lab{692}{697}{circLZIC}
\lab{713}{708}{circFAM13B(8-10)}
\lab{736}{718}{circAC004076.1}
\lab{758}{728}{circCNOT1}
\lab{780}{772}{circESYT2(9-13)}
\lab{811}{811}{circUBAP2}
\lab{833}{833}{circNBPF10}
\lab{856}{855}{circRTN4(4-5)}
\lab{930}{940}{circAC135983.2}
\lab{953}{949}{circCCDC91}
\lab{975}{982}{circVAMP3}
\lab{997}{990}{circPLPBP}
\lab{1020}{1012}{circLINS1}
\lab{1054}{1054}{circCASC15(4)}
\lab{1131}{1149}{\fontsize{8.6}{9}\selectfont circClust\_15:56480833-56492500}
\lab{1154}{1160}{circTFDP2}

% heatmap legends
\T[9.6]{2385}{2202}{Sample groups}
\T[9.6]{2845}{2202}{Expression}
\fill[cA] (2383,3050-2253) rectangle (2433,3050-2302);
\fill[cH] (2383,3050-2307) rectangle (2433,3050-2357);
\T[10.8]{2457}{2277}{Thymocyte}
\T[10.8]{2457}{2330}{T-ALL}
\foreach \i/\c/\t in {0/cA/CD34\textsuperscript{+}4\textsuperscript{-}1\textsuperscript{-},
  1/cB/CD34\textsuperscript{+}4\textsuperscript{-}1\textsuperscript{+},
  2/cC/CD34\textsuperscript{+}4\textsuperscript{+},
  3/cD/DP 4\textsuperscript{+}8\textsuperscript{+}3\textsuperscript{-},
  4/cE/DP 4\textsuperscript{+}8\textsuperscript{+}3\textsuperscript{+},
  5/cF/IMM,6/cG/HOXA,7/cH/TLX3,8/cI/TLX1,9/cJ/TAL-LMO}{
  \fill[\c] (2383,3050-2449-54.7*\i) rectangle (2433,3050-2499-54.7*\i);
  \node[anchor=west,inner sep=0pt,text height=7.1pt,text depth=0pt,font=\fontsize{9.9}{11}\selectfont] at (2457,3050-2474-54.7*\i) {\t};
}
\shade[shading=hbar] (2845,3050-2571) rectangle (2903,3050-2295);
\shade[shading=abar] (2845,3050-2964) rectangle (2903,3050-2689);
\foreach \y/\t in {2303/2,2367/1,2432/0,2497/-1,2564/-2,2697/5,2761/4,2825/3,2890/2,2954/1}{
  \draw[white,line width=.5pt] (2845,3050-\y) -- (2856,3050-\y) (2892,3050-\y) -- (2903,3050-\y);
  \node[anchor=west,inner sep=0pt,text height=6.9pt,text depth=0pt,font=\fontsize{9.6}{10}\selectfont] at (2930,3050-\y) {\t};
}
\T[9.6]{2996}{2435}{Row scaled}
\T[9.6]{2996}{2825}{Average}
\end{tikzpicture}
\end{document}
